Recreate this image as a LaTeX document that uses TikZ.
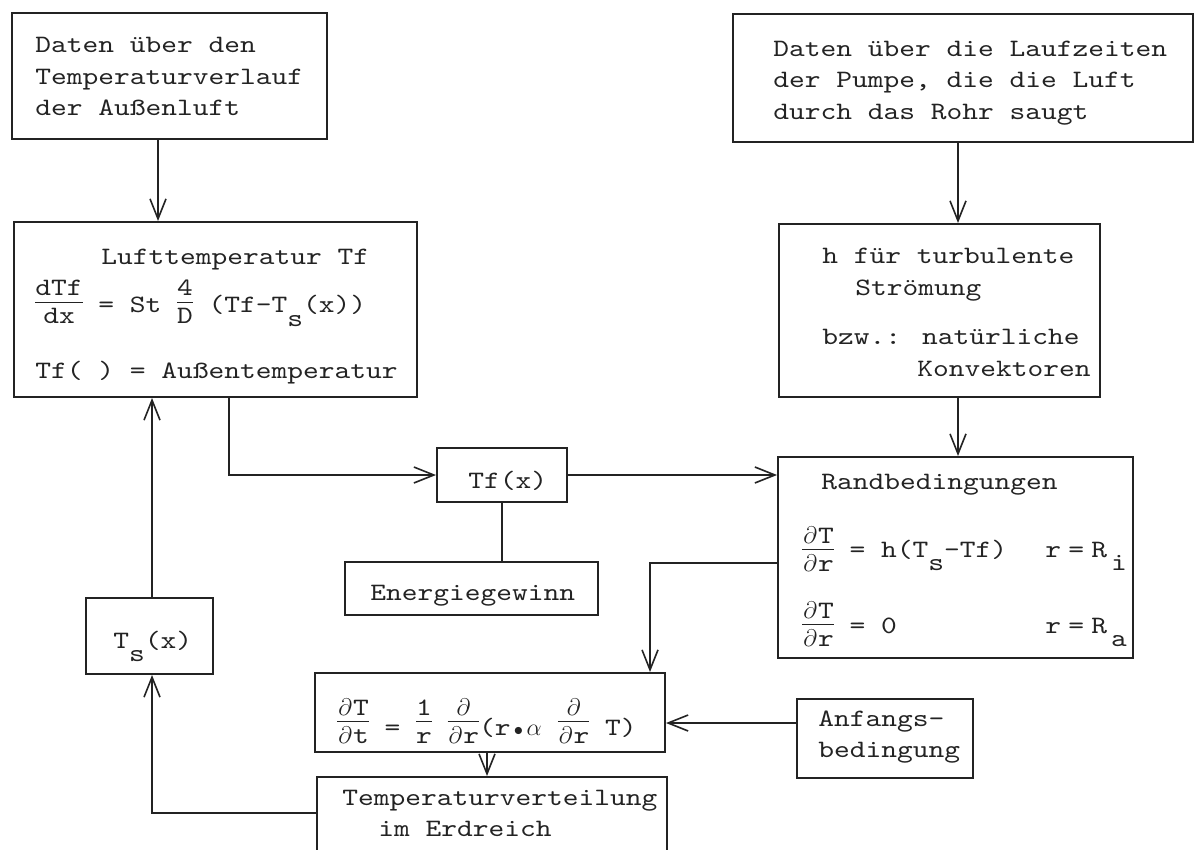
\documentclass[tikz,border=0pt]{standalone}
\usepackage{fontspec}
\usetikzlibrary{arrows.meta,fit}
\newfontfamily\tw{lmmono10-regular.otf}[FakeStretch=1.2]
\definecolor{ink}{RGB}{35,35,35}
\newsavebox\frnum
\newsavebox\frden
\newlength\frw
\newcommand\fr[3][5pt]{%
  \sbox\frnum{#2}\sbox\frden{#3}%
  \setlength\frw{\wd\frnum}%
  \ifdim\wd\frden>\frw \setlength\frw{\wd\frden}\fi
  \rlap{\raisebox{\dimexpr#1+3.5pt\relax}{\makebox[\frw]{\usebox\frnum}}}%
  \rlap{\raisebox{#1}{\rule{\frw}{0.45pt}}}%
  \raisebox{\dimexpr#1-10.5pt\relax}{\makebox[\frw]{\usebox\frden}}}
\newcommand\lowr[1]{\raisebox{-6.5pt}{#1}}
\newcommand\pd{\makebox[7.875pt][c]{$\partial$}}
\newcommand\bul{\makebox[7.875pt]{$\scriptstyle\bullet$}}
\newcommand\alp{\makebox[7.875pt][c]{$\alpha$}}
\begin{document}
\begin{tikzpicture}[x=0.5pt,y=-0.5pt,
  box/.style={draw=ink,line width=1pt,inner sep=0pt,rectangle},
  txt/.style={inner sep=0pt,text=ink,font={\tw\fontsize{12.5pt}{15.75pt}\selectfont},align=left},
  mtxt/.style={txt,anchor=west,execute at begin node=\strut,execute at end node=\strut},
  ltxt/.style={txt,anchor=base west},
  arr/.style={draw=ink,line width=0.8pt,-{Straight Barb[length=10pt,width=8pt]}},
  ln/.style={draw=ink,line width=0.8pt}]
\fill[white] (0,0) rectangle (1199,850);
\useasboundingbox (0,0) rectangle (1199,850);
% boxes
\node[box,fit={(12,13) (327,139)}] (A) {};
\node[box,fit={(733,14) (1193,142)}] (TR) {};
\node[box,fit={(14,222) (417,397)}] (B) {};
\node[box,fit={(779,224) (1100,397)}] (h) {};
\node[box,fit={(437,448) (567,502)}] (Tf) {};
\node[box,fit={(778,457) (1133,658)}] (R) {};
\node[box,fit={(345,562) (598,615)}] (E) {};
\node[box,fit={(86,598) (213,674)}] (Ts) {};
\node[box,fit={(315,673) (665,752)}] (P) {};
\node[box,fit={(797,699) (973,778)}] (An) {};
\node[box,fit={(317,777) (667,880)}] (TV) {};
% texts
\node[mtxt] (At) at (35,81.5) {Daten über den\\Temperaturverlauf\\der Außenluft};
\node[mtxt] (TRt) at (773,85) {Daten über die Laufzeiten\\der Pumpe, die die Luft\\durch das Rohr saugt};
\node[ltxt] (B1) at (101,264) {Lufttemperatur Tf};
\node[ltxt] (B2) at (35,313) {\fr{dTf}{dx} = St \fr{4}{D} (Tf-T\lowr{s}(x))};
\node[ltxt] (B3) at (35,378) {Tf( ) = Außentemperatur};
\node[mtxt] (ht) at (822,317) {h für turbulente\\\hspace*{16.5pt}Strömung\\[9pt]bzw.: natürliche\\\hspace*{47.5pt}Konvektoren};
\node[ltxt] (Tft) at (468,488) {Tf(x)};
\node[ltxt] (Et) at (370,600) {Energiegewinn};
\node[ltxt] (Tst) at (113,648) {T\lowr{s}(x)};
\node[ltxt] (R1) at (821,489) {Randbedingungen};
\node[ltxt] (R2) at (802,557) {\makebox[121.5pt][l]{\fr[3.5pt]{\pd T}{\pd r} = h(T\lowr{s}-Tf)}r\hspace{3.6pt}=\hspace{3.6pt}R\hspace{2pt}\lowr{i}};
\node[ltxt] (R3) at (802,633) {\makebox[121.5pt][l]{\fr[4pt]{\pd T}{\pd r} = 0}r\hspace{3.6pt}=\hspace{3.6pt}R\hspace{2pt}\lowr{a}};
\node[ltxt] (Pt) at (337,735) {\fr[6.5pt]{\pd T}{\pd t} = \fr[6.5pt]{1}{r} \fr[6.5pt]{\pd}{\pd r}(r\bul\alp{} \fr[6.5pt]{\pd}{\pd r} T)};
\node[mtxt] (Ant) at (818,739) {Anfangs-\\bedingung};
\node[mtxt] (TVt) at (342,818) {Temperaturverteilung\\\hspace*{18pt}im Erdreich};
% helper coordinates
\coordinate (xA) at (158,0);
\coordinate (xT) at (958,0);
\coordinate (xB) at (229,0);
\coordinate (cR) at (650,563);
\coordinate (cA) at (0,723);
\coordinate (xP) at (487,0);
\coordinate (cT) at (152,813);
% connectors
\draw[arr] (A.south -| xA) -- (B.north -| xA);
\draw[arr] (TR.south -| xT) -- (h.north -| xT);
\draw[arr] (h.south -| xT) -- (R.north -| xT);
\draw[arr] (B.south -| xB) |- (Tf.west);
\draw[arr] (Tf.east) -- (Tf.east -| R.west);
\draw[ln] (Tf.south) -- (Tf.south |- E.north);
\draw[arr] (R.west |- cR) -| (P.north -| cR);
\draw[arr] (An.west |- cA) -- (P.east |- cA);
\draw[arr] (P.south -| xP) -- (TV.north -| xP);
\draw[arr] (TV.west |- cT) -| (Ts.south -| cT);
\draw[arr] (Ts.north -| cT) -- (B.south -| cT);
\end{tikzpicture}
\end{document}
